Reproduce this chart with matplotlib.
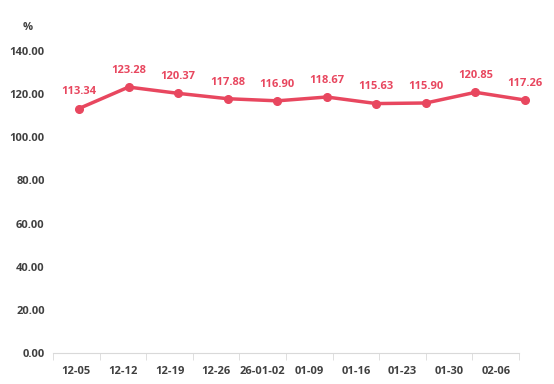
import numpy as np
import matplotlib.pyplot as plt

dates = ['12-05', '12-12', '12-19', '12-26', '26-01-02', '01-09',
         '01-16', '01-23', '01-30', '02-06']
values = [113.34, 123.28, 120.37, 117.88, 116.90, 118.67,
          115.63, 115.90, 120.85, 117.26]
yticks = [0, 20, 40, 60, 80, 100, 120, 140]

red = '#E8475F'
grey = '#404040'
font = ['Open Sans', 'DejaVu Sans']
fw = 'bold'
fs = 8

fig = plt.figure(figsize=(5.54, 3.84), dpi=100)
ax = fig.add_axes([53 / 554, 31 / 384, 466 / 554, 302 / 384])

# category axis
n = len(dates)
ax.set_xlim(-0.5, n - 0.5)
ax.set_ylim(0, 140)
ax.set_xticks(np.arange(n))
ax.set_xticklabels(dates, fontsize=fs, color=grey, fontweight=fw, family=font)
ax.set_xticks(np.arange(n + 1) - 0.5, minor=True)
ax.tick_params(axis='x', which='major', length=0, pad=9)
ax.tick_params(axis='x', which='minor', length=5, color='#d9d9d9')
ax.set_yticks(yticks)
ax.set_yticklabels(['%.2f' % v for v in yticks], fontsize=fs, color=grey,
                   fontweight=fw, family=font)
ax.tick_params(axis='y', length=0, pad=6)
for s in ['top', 'right', 'left']:
    ax.spines[s].set_visible(False)
ax.spines['bottom'].set_color('#d9d9d9')

# the line itself sits on a slightly wider scale than the category axis
ax2 = ax.twiny()
ax2.set_xlim(-0.525, 8.879)
ax2.set_ylim(0, 140)
ax2.axis('off')
x = np.arange(n)
ax2.plot(x, values, color=red, linewidth=2.5, marker='o', markersize=5.5,
         clip_on=False, solid_capstyle='round')
for xi, v in zip(x, values):
    ax2.annotate('%.2f' % v, (xi, v), xytext=(0, 12), textcoords='offset points',
                 ha='center', va='center', fontsize=fs, color=red,
                 fontweight=fw, family=font, annotation_clip=False)

fig.text(28 / 554, 1 - 28 / 384, '%', ha='center', va='center',
         fontsize=fs, color=grey, fontweight=fw, family=font)

fig.savefig('out.png', dpi=100)
